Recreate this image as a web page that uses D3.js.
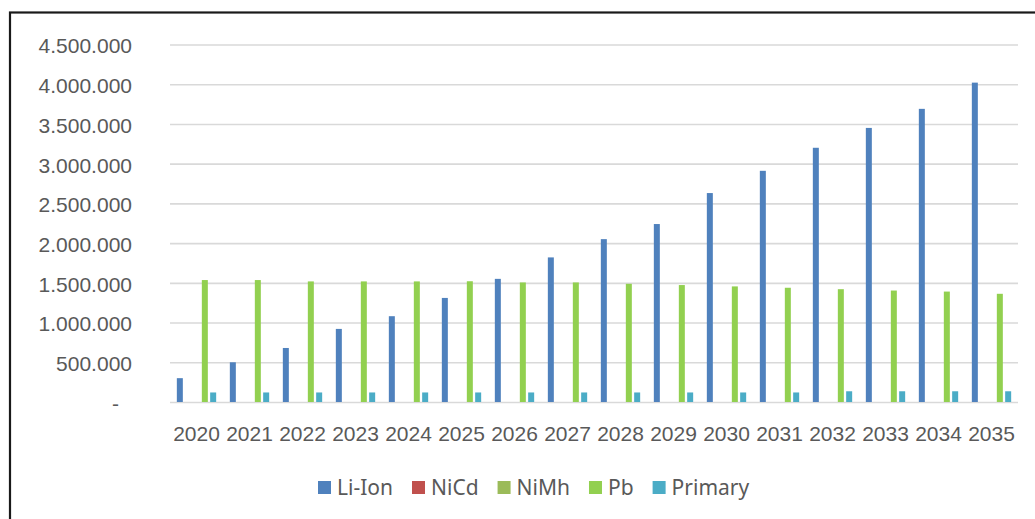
<!DOCTYPE html>
<html>
<head>
<meta charset="utf-8">
<script src="https://cdn.jsdelivr.net/npm/d3@7"></script>
<style>
    html, body { margin: 0; padding: 0; background: #fff; }
    svg { display: block; font-family: "Noto Sans", "Open Sans", sans-serif; }
    .grid line { stroke: #d9d9d9; stroke-width: 1.6; }
    .label { fill: #595959; font-size: 21px; }
</style>
</head>
<body>
<svg id="chart" width="1035" height="519"></svg>
<script>
// ============================================================================
// DATA
// ============================================================================
const years = ["2020", "2021", "2022", "2023", "2024", "2025", "2026", "2027",
               "2028", "2029", "2030", "2031", "2032", "2033", "2034", "2035"];

const seriesNames = ["Li-Ion", "NiCd", "NiMh", "Pb", "Primary"];

const liIon   = [300000, 500000, 680000, 920000, 1080000, 1310000, 1550000, 1820000,
                 2050000, 2240000, 2630000, 2910000, 3200000, 3450000, 3690000, 4020000];
const niCd    = [0, 0, 0, 0, 0, 0, 0, 0, 0, 0, 0, 0, 0, 0, 0, 0];
const niMh    = [0, 0, 0, 0, 0, 0, 0, 0, 0, 0, 0, 0, 0, 0, 0, 0];
const pb      = [1535000, 1535000, 1518000, 1518000, 1518000, 1520000, 1505000, 1505000,
                 1488000, 1472000, 1455000, 1438000, 1420000, 1403000, 1390000, 1362000];
const primary = [120000, 120000, 120000, 120000, 120000, 120000, 120000, 120000,
                 120000, 120000, 120000, 120000, 135000, 135000, 135000, 135000];

const yTicks = [0, 500000, 1000000, 1500000, 2000000, 2500000, 3000000, 3500000, 4000000, 4500000];

const seriesColors = ["#4f81bd", "#c0504d", "#9bbb59", "#92d050", "#4bacc6"];

// ============================================================================
// SETUP
// ============================================================================
const svg = d3.select("#chart");
const plot = { left: 170, right: 1018, top: 44.5, bottom: 402 };

const seriesValues = [liIon, niCd, niMh, pb, primary];
const rows = years.map((year, i) => ({
    year,
    values: seriesNames.map((name, s) => ({ name, value: seriesValues[s][i] }))
}));

const x0 = d3.scaleBand()
    .domain(years)
    .range([plot.left, plot.right])
    .paddingInner(0.258)
    .paddingOuter(0.129);

const x1 = d3.scaleBand()
    .domain(seriesNames)
    .range([0, x0.bandwidth()])
    .paddingInner(0.28);

const y = d3.scaleLinear()
    .domain([0, 4500000])
    .range([plot.bottom, plot.top]);

const color = d3.scaleOrdinal().domain(seriesNames).range(seriesColors);

const locale = d3.formatLocale({ decimal: ",", thousands: ".", grouping: [3], currency: ["", ""] });
const fmt = locale.format(",d");

// Frame (only top & left edges are visible in the crop)
svg.append("rect")
    .attr("x", 10)
    .attr("y", 12.5)
    .attr("width", 1060)
    .attr("height", 540)
    .attr("fill", "none")
    .attr("stroke", "#1a1a1a")
    .attr("stroke-width", 2.2);

// Gridlines + y labels
const yAxis = d3.axisLeft(y)
    .tickValues(yTicks)
    .tickSize(-(plot.right - plot.left))
    .tickFormat(d => d === 0 ? "-" : fmt(d));

const gridG = svg.append("g")
    .attr("class", "grid")
    .attr("transform", `translate(${plot.left},0)`)
    .call(yAxis);

gridG.select(".domain").remove();
gridG.selectAll(".tick text")
    .attr("class", "label")
    .attr("x", d => d === 0 ? -51 : -38)
    .attr("dy", "0.4em")
    .attr("text-anchor", "end");

// Bars
svg.append("g")
    .selectAll("g")
    .data(rows)
    .join("g")
    .attr("transform", d => `translate(${x0(d.year)},0)`)
    .selectAll("rect")
    .data(d => d.values)
    .join("rect")
    .attr("x", d => x1(d.name))
    .attr("y", d => y(d.value))
    .attr("width", x1.bandwidth())
    .attr("height", d => y(0) - y(d.value))
    .attr("fill", d => color(d.name));

// X axis labels
const xAxis = d3.axisBottom(x0).tickSize(0).tickPadding(0);
const xG = svg.append("g")
    .attr("transform", `translate(0,${plot.bottom})`)
    .call(xAxis);
xG.select(".domain").remove();
xG.selectAll(".tick text")
    .attr("class", "label")
    .attr("y", 39)
    .attr("dy", 0)
    .attr("text-anchor", "middle");

// Legend
const legend = svg.append("g").attr("transform", "translate(318,0)");
let lx = 0;
seriesNames.forEach(name => {
    const item = legend.append("g").attr("transform", `translate(${lx},0)`);
    item.append("rect")
        .attr("x", 0)
        .attr("y", 481)
        .attr("width", 13)
        .attr("height", 13)
        .attr("fill", color(name));
    const t = item.append("text")
        .attr("class", "label")
        .attr("x", 19)
        .attr("y", 495)
        .text(name);
    lx += 19 + t.node().getComputedTextLength() + 19;
});
</script>
</body>
</html>
